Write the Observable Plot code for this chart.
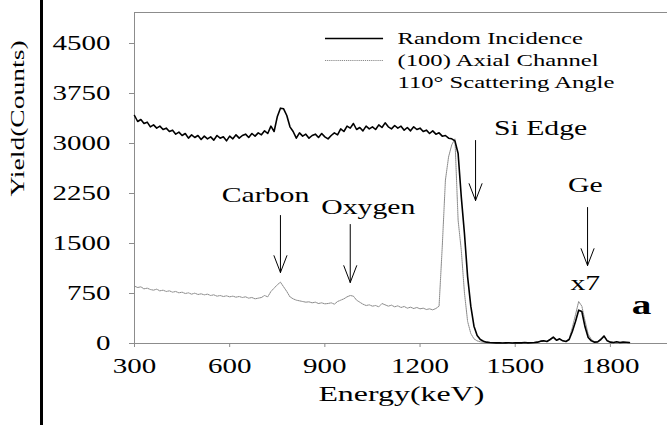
<!DOCTYPE html>
<html><head><meta charset="utf-8">
<script src="https://cdn.jsdelivr.net/npm/d3@7"></script>
<script src="https://cdn.jsdelivr.net/npm/@observablehq/plot@0.6"></script>
<style>
html,body{margin:0;padding:0;background:#fff;}
#wrap{position:relative;width:667px;height:425px;overflow:hidden;background:#fff;}
#chart{position:absolute;left:0;top:0;}
#border{position:absolute;left:40px;top:0;width:2.5px;height:425px;background:#000;}
</style></head><body>
<div id="wrap"><div id="chart"></div><div id="border"></div></div>
<script>
// ---- data ----
const energy = [
 300,310,320,330,340,350,360,370,380,390,
 400,410,420,430,440,450,460,470,480,490,
 500,510,520,530,540,550,560,570,580,590,
 600,610,620,630,640,650,660,670,680,690,
 700,710,720,730,740,750,760,770,780,790,
 800,810,820,830,840,850,860,870,880,890,
 900,910,920,930,940,950,960,970,980,990,
 1000,1010,1020,1030,1040,1050,1060,1070,1080,1090,
 1100,1110,1120,1130,1140,1150,1160,1170,1180,1190,
 1200,1210,1220,1230,1240,1250,1260,1270,1280,1290,
 1300,1310,1320,1330,1340,1350,1360,1370,1380,1390,
 1400,1410,1420,1430,1440,1450,1460,1470,1480,1490,
 1500,1510,1520,1530,1540,1550,1560,1570,1580,1590,
 1600,1610,1620,1630,1640,1650,1660,1670,1680,1690,
 1700,1710,1720,1730,1740,1750,1760,1770,1780,1790,
 1800,1810,1820,1830,1840,1850,1860
];
const randomIncidence = [
 3420,3330,3360,3300,3320,3250,3280,3230,3260,3210,
 3230,3180,3200,3140,3170,3120,3150,3080,3130,3090,
 3120,3060,3110,3070,3100,3050,3120,3080,3100,3040,
 3110,3070,3130,3080,3120,3140,3090,3150,3110,3160,
 3130,3190,3150,3260,3180,3400,3530,3520,3420,3250,
 3180,3080,3160,3110,3140,3080,3120,3140,3090,3150,
 3100,3070,3120,3160,3130,3220,3180,3260,3230,3300,
 3210,3240,3190,3260,3220,3250,3210,3280,3240,3310,
 3250,3220,3270,3230,3260,3200,3240,3190,3250,3210,
 3230,3180,3200,3150,3190,3140,3160,3110,3120,3080,
 3070,3040,2850,2200,1650,1000,560,260,120,60,
 35,20,15,12,10,12,8,10,12,8,
 10,12,10,14,10,12,15,20,35,40,
 30,60,95,50,70,40,30,60,180,330,
 500,480,250,90,40,20,25,60,110,40,
 20,15,25,15,20,18,15
];
const axialChannel = [
 860,840,850,820,830,810,800,815,790,800,
 780,790,770,780,760,770,750,760,740,755,
 735,745,730,740,720,730,710,720,705,715,
 700,710,695,705,690,700,680,690,670,680,
 690,720,700,780,830,880,920,850,780,700,
 670,650,640,630,620,625,610,620,600,610,
 595,600,610,590,630,650,670,700,720,710,
 650,620,590,570,580,560,570,550,600,580,
 560,575,550,565,540,555,530,545,525,540,
 520,530,510,520,505,525,560,1450,2450,2800,
 2980,3070,1850,1400,760,330,150,70,40,25,
 18,15,12,10,12,10,8,10,12,10,
 8,10,12,10,12,10,15,20,30,35,
 30,55,85,45,60,40,30,70,240,430,
 630,560,340,140,60,25,30,70,120,45,
 20,15,20,15,18,15,12
];
const xTicks = [300, 600, 900, 1200, 1500, 1800];
const yTicks = [0, 750, 1500, 2250, 3000, 3750, 4500];
const legendLabels = ["Random Incidence", "(100) Axial Channel", "110\u00B0 Scattering Angle"];
const annLabels = ["Carbon", "Oxygen", "Si Edge", "Ge", "x7"];
const annEnergy = [713, 1037, 1580, 1721, 1721];
const annCount = [2220, 2040, 3225, 2370, 900];
const arrowEnergy = [760, 980, 1375, 1728];
const arrowFrom = [1920, 1785, 3045, 2040];
const arrowTo = [1065, 915, 2145, 1170];
const panelLabel = ["a"];
const xTitle = ["Energy(keV)"];
const yTitle = ["Yield(Counts)"];

// ---- chart ----
const X_MIN = 300, X_MAX = 1980, Y_MAX = 4965;
const STRETCH = 1.45;
const serif = "Liberation Serif, DejaVu Serif, serif";
const axisGray = "#8c8c8c";

const spectra = energy.map((e, i) => ({energy: e, random: randomIncidence[i], axial: axialChannel[i]}));
const legendRows = legendLabels.map((label, i) => ({label, i}));
const legendY = i => 4575 - i * 330;
const LEG_X1 = 902, LEG_X2 = 1085, LEG_TX = 1129;
const plain = d => String(d);

const plot = Plot.plot({
  width: 667, height: 425,
  marginLeft: 134, marginRight: 0, marginTop: 12, marginBottom: 82,
  style: {fontFamily: serif, background: "white", color: "black"},
  x: {domain: [X_MIN, X_MAX]},
  y: {domain: [0, Y_MAX]},
  marks: [
    Plot.ruleY([Y_MAX], {stroke: axisGray}),
    Plot.ruleX([X_MIN], {stroke: axisGray}),
    Plot.ruleY([0], {stroke: axisGray}),
    Plot.axisY({ticks: yTicks, tickFormat: plain, tickSize: 5, tickPadding: 19, fontSize: 20, stroke: axisGray, fill: "black", label: null}),
    Plot.axisX({ticks: xTicks, tickFormat: plain, tickSize: 4, tickPadding: 11, fontSize: 20, stroke: axisGray, fill: "black", label: null}),
    Plot.line(spectra, {x: "energy", y: "axial", stroke: "#8a8a8a", strokeWidth: 1, strokeDasharray: "1.2,0.9"}),
    Plot.line(spectra, {x: "energy", y: "random", stroke: "black", strokeWidth: 1.6}),
    Plot.arrow(arrowEnergy, {x1: d => d, x2: d => d, y1: (d, i) => arrowFrom[i], y2: (d, i) => arrowTo[i],
      stroke: "black", strokeWidth: 1, headLength: 27, headAngle: 42}),
    Plot.text(annLabels, {x: (d, i) => annEnergy[i], y: (d, i) => annCount[i], text: d => d, fontSize: 20.5, fill: "black"}),
    Plot.text(panelLabel, {x: () => 1898, y: () => 570, text: d => d, fontSize: 27, fontWeight: "bold", fill: "black"}),
    // legend
    Plot.ruleY(legendRows.slice(0, 1), {y: d => legendY(d.i), x1: LEG_X1, x2: LEG_X2, stroke: "black", strokeWidth: 1.6}),
    Plot.ruleY(legendRows.slice(1, 2), {y: d => legendY(d.i), x1: LEG_X1, x2: LEG_X2, stroke: "#8a8a8a", strokeWidth: 1, strokeDasharray: "1.2,0.9"}),
    Plot.text(legendRows, {x: () => LEG_TX, y: d => legendY(d.i), text: "label", textAnchor: "start", fontSize: 17, fill: "black"}),
    // axis titles
    Plot.text(xTitle, {x: () => 1141, frameAnchor: "bottom", dy: 57, text: d => d, fontSize: 22, fill: "black"}),
    Plot.text(yTitle, {y: () => 2205, frameAnchor: "left", dx: -117, rotate: -90, text: d => d, fontSize: 19, fill: "black"})
  ]
});

// serif glyphs, widened along their baseline as in the reference
plot.querySelectorAll("text").forEach(t => {
  t.setAttribute("font-family", serif);
  const ax = parseFloat(t.getAttribute("x")) || 0;
  const tr = t.getAttribute("transform") || "";
  t.setAttribute("transform", `${tr} translate(${ax},0) scale(${STRETCH},1) translate(${-ax},0)`);
});

document.getElementById("chart").appendChild(plot);
</script>
</body></html>
